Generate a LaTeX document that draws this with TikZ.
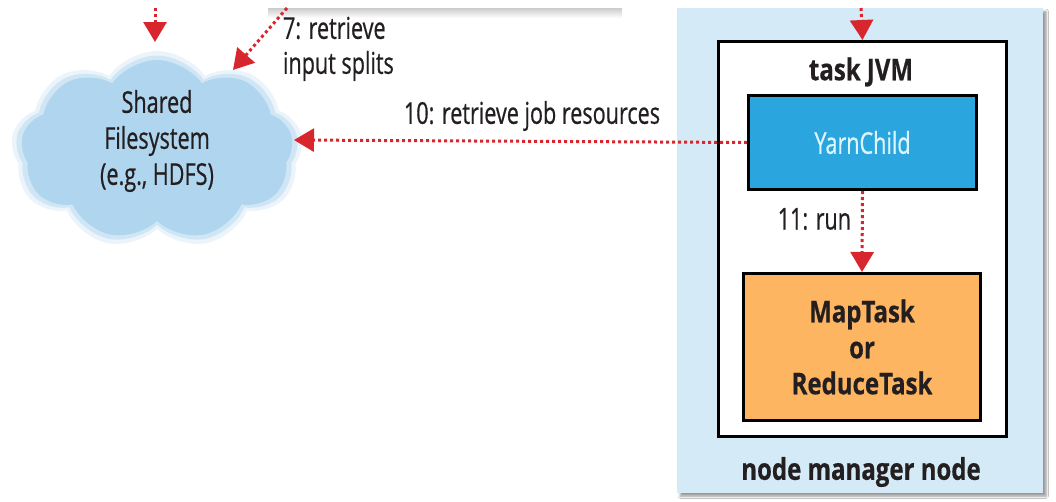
\documentclass[tikz,border=0pt]{standalone}
\usepackage{fontspec}
\setmainfont{Open Sans}[FakeStretch=0.72,UprightFeatures={FakeBold=0.6},BoldFeatures={FakeStretch=0.8,FakeBold=0.5}]
\usetikzlibrary{arrows.meta,shapes.symbols,shadows.blur}
\definecolor{nmblue}{HTML}{D4EBF7}
\definecolor{ycblue}{HTML}{2AA5DE}
\definecolor{yctext}{HTML}{DDF5FF}
\definecolor{taskorange}{HTML}{FDB562}
\definecolor{arrowred}{HTML}{D7262E}
\definecolor{cloudblue}{HTML}{B0D6EF}
\definecolor{txt}{HTML}{231F20}
\tikzset{
  lbl/.style={inner sep=0pt,outer sep=0pt,text=txt,font=\fontsize{30}{36}\selectfont,align=center},
  blbl/.style={lbl,font=\fontsize{30}{36}\selectfont\bfseries},
  nmbox/.style={fill=nmblue,draw=none,inner sep=0pt,blur shadow={shadow xshift=3pt,shadow yshift=-3pt,shadow blur steps=6,shadow opacity=40}},
  jvmbox/.style={fill=white,draw=black,line width=3pt,inner sep=0pt},
  ycbox/.style={fill=ycblue,draw=black,line width=3pt,inner sep=0pt,text=yctext,font=\fontsize{30}{36}\selectfont},
  taskbox/.style={fill=taskorange,draw=black,line width=3pt,inner sep=0pt,text=txt,align=center,font=\fontsize{30}{36}\selectfont\bfseries},
  redarrow/.style={draw=arrowred,line width=3pt,dash pattern=on 3pt off 3pt,-{Triangle[width=23pt,length=20pt,fill=arrowred]}},
  cloudfill/.style={cloud,cloud puffs=9,cloud puff arc=110,aspect=1.5,draw=none,inner sep=0pt}
}
\begin{document}
\begin{tikzpicture}[x=1pt,y=-1pt]
\useasboundingbox[fill=white] (0,0) rectangle (1056,501);
% shadow of the cut-off box at the top
\shade[top color=black!20,bottom color=white,draw=none] (268,8) rectangle (622,18);
% cloud (soft edge from layered fills)
\node[cloudfill,fill=cloudblue,fill opacity=0.25,minimum width=292,minimum height=198] (cloudhalo2) at (157,150) {};
\node[cloudfill,fill=cloudblue,fill opacity=0.45,minimum width=283,minimum height=189] (cloudhalo1) at (157,150) {};
\node[cloudfill,fill=cloudblue,minimum width=272,minimum height=180] (cloud) at (157,150) {};
\node[lbl] (fs) at (157,141) {Shared\\Filesystem\\(e.g., HDFS)};
% node manager
\node[nmbox,minimum width=366,minimum height=485,anchor=north west] (nm) at (677,8) {};
\node[jvmbox,minimum width=288,minimum height=395,anchor=north west] (jvm) at (717,40) {};
\node[blbl] (jvmlabel) at (861,72) {task JVM};
\node[ycbox,minimum width=228,minimum height=94,anchor=north west] (yc) at (747,94) {YarnChild};
\node[taskbox,minimum width=237,minimum height=147,anchor=north west] (mt) at (742,272) {MapTask\\or\\ReduceTask};
\node[blbl] (nmlabel) at (861,472) {node manager node};
% coordinates for free ends
\coordinate (topjvm) at (861,8);
\coordinate (topfs) at (155,8);
\coordinate (fstip) at (155,42);
\coordinate (splitsfrom) at (287,8);
\coordinate (splitsto) at (233,70);
\coordinate (resto) at (294,140);
% arrows
\draw[redarrow] (topjvm) -- (jvm.north);
\draw[redarrow] (topfs) -- (fstip);
\draw[redarrow] (splitsfrom) -- (splitsto);
\draw[redarrow] (yc.west) -- (resto);
\draw[redarrow] (yc.south) -- (mt.north);
% labels
\node[lbl,align=left,anchor=west] (l7a) at (283,28) {7: retrieve};
\node[lbl,align=left,anchor=west] (l7b) at (283,66) {input splits};
\node[lbl] (l10) at (532,116) {10: retrieve job resources};
\node[lbl,anchor=east] (l11) at (851,219) {11: run};
\end{tikzpicture}
\end{document}
